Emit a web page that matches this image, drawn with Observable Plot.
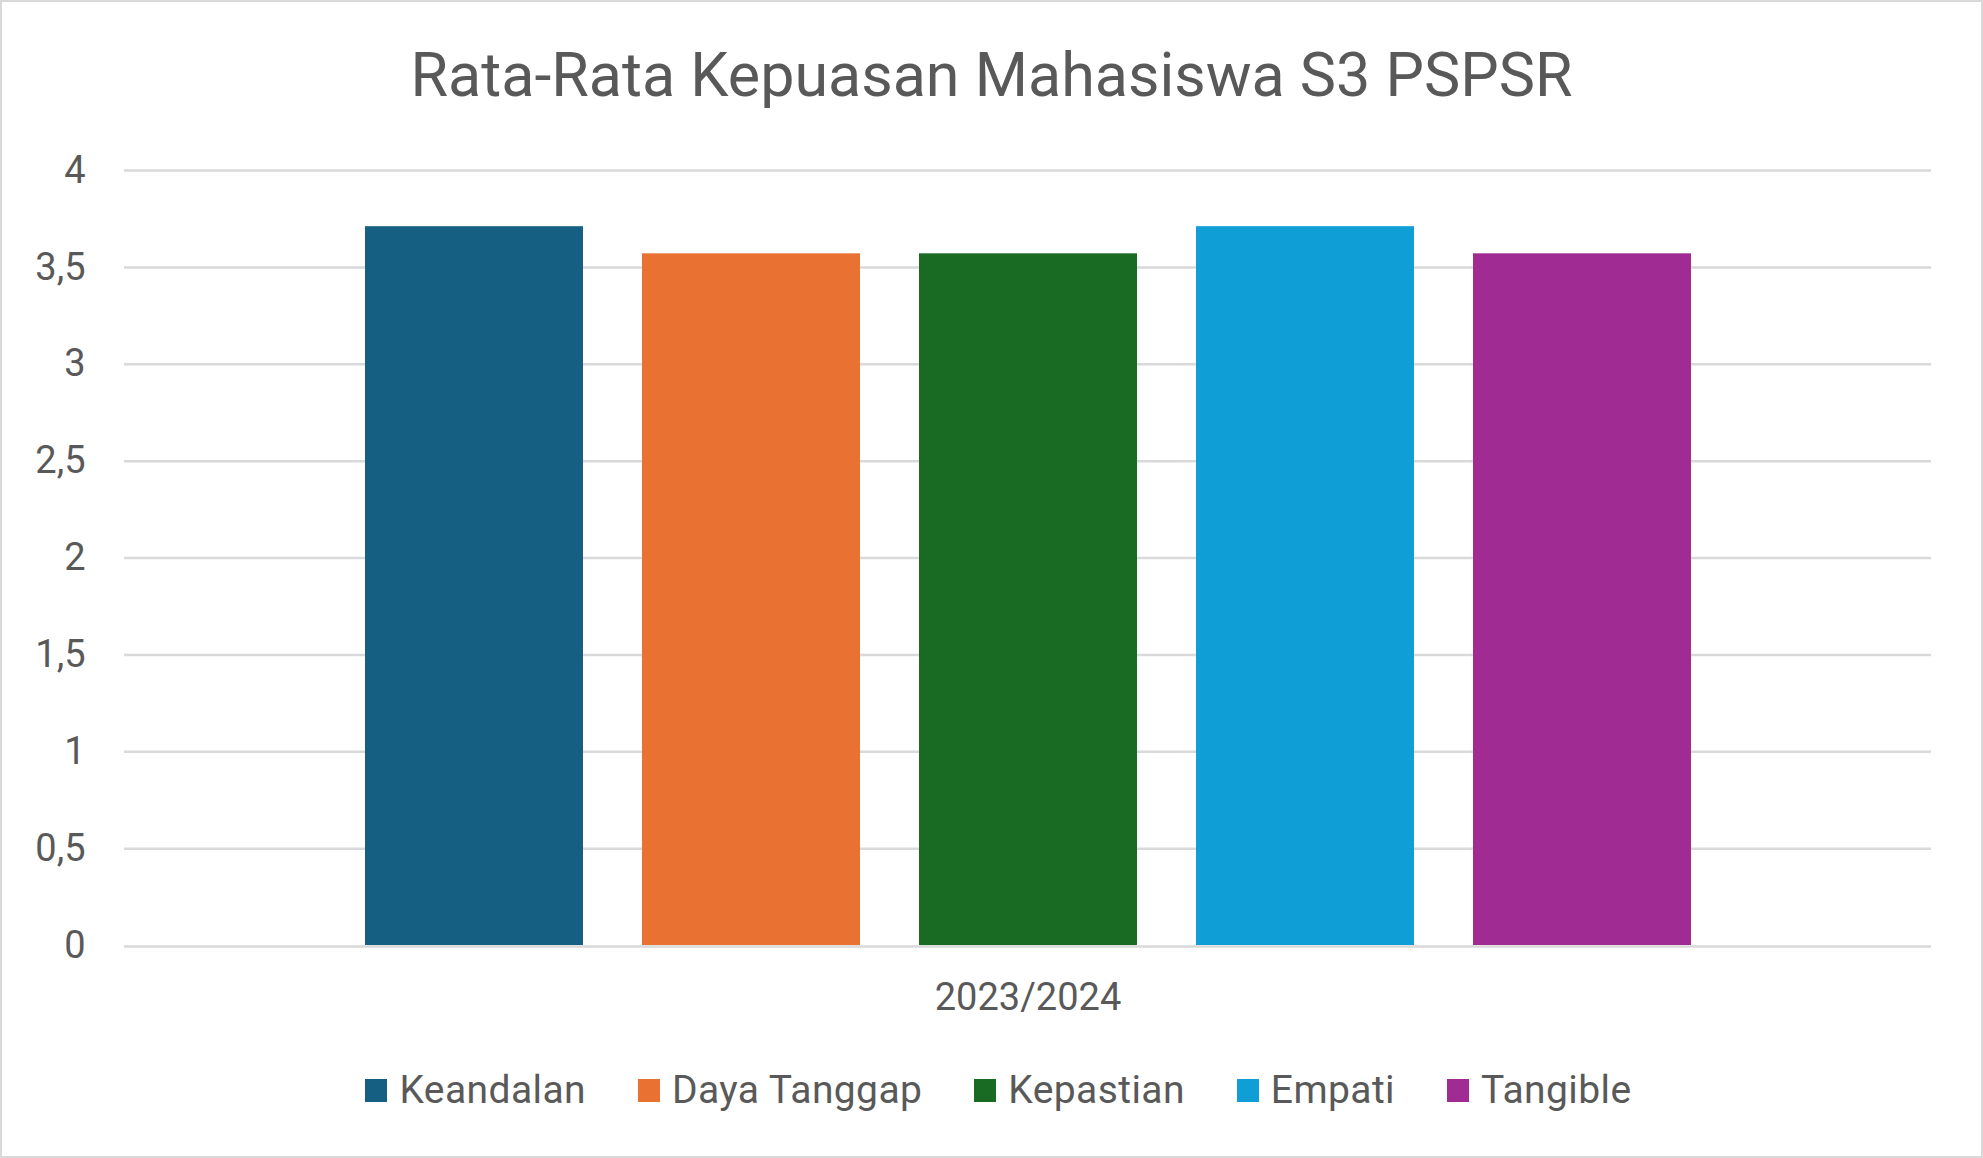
<!DOCTYPE html>
<html>
<head>
<meta charset="utf-8">
<script src="https://cdn.jsdelivr.net/npm/d3@7"></script>
<script src="https://cdn.jsdelivr.net/npm/@observablehq/plot@0.6"></script>
<style>
  html, body { margin: 0; padding: 0; background: #fff; }
  #chart { position: relative; width: 1983px; height: 1158px; overflow: hidden; background: #fff;
           font-family: Roboto, "Liberation Sans", sans-serif; color: #595959; }
  #title { position: absolute; left: 0; right: 0; top: 45px; text-align: center;
           font-size: 61px; line-height: 1; white-space: nowrap; }
  #plot { position: absolute; left: 0; top: 110px; }
  #legend { position: absolute; left: 14px; right: 0; top: 1070px; height: 40px;
            display: flex; align-items: center; justify-content: center; font-size: 39px; letter-spacing: 0.4px; }
  .item { display: flex; align-items: center; margin-right: 52px; white-space: nowrap; }
  .item:last-child { margin-right: 0; }
  .sw { width: 22px; height: 23px; margin-right: 12px; }
  #frame { position: absolute; left: 0; top: 0; width: 1983px; height: 1158px; box-sizing: border-box;
           border: 2px solid #d9d9d9; pointer-events: none; }
</style>
</head>
<body>
<div id="chart">
  <div id="title">Rata-Rata Kepuasan Mahasiswa S3 PSPSR</div>
  <div id="plot"></div>
  <div id="legend"></div>
  <div id="frame"></div>
</div>
<script>
const years = ["2023/2024"];
const categories = ["Keandalan", "Daya Tanggap", "Kepastian", "Empati", "Tangible"];
const values = [3.71, 3.57, 3.57, 3.71, 3.57];
const colors = ["#156082", "#E97132", "#196B24", "#0F9ED5", "#A02B93"];
const yTicks = [0, 0.5, 1, 1.5, 2, 2.5, 3, 3.5, 4];

const data = categories.map((c, i) => ({year: years[0], category: c, value: values[i]}));

const chart = Plot.plot({
  width: 1983,
  height: 920,
  marginTop: 60,
  marginBottom: 85,
  marginLeft: 124,
  marginRight: 52,
  style: {fontFamily: "Roboto, 'Liberation Sans', sans-serif", fontSize: "38px", color: "#595959", background: "transparent", overflow: "visible"},
  fx: {domain: years, padding: 0, label: null},
  x: {domain: categories, paddingInner: 0.213, paddingOuter: 0.866, axis: null},
  y: {domain: [0, 4], label: null},
  color: {domain: categories, range: colors},
  marks: [
    Plot.gridY(yTicks.filter(d => d !== 0), {stroke: "#d9d9d9", strokeOpacity: 1, strokeWidth: 2.5}),
    Plot.axisY(yTicks, {tickSize: 0, tickPadding: 39, tickFormat: d => String(d).replace(".", ","), label: null, fill: "#595959"}),
    Plot.axisFx({anchor: "bottom", tickSize: 0, tickPadding: 38, label: null, fill: "#595959"}),
    Plot.barY(data, {fx: "year", x: "category", y: "value", fill: "category"}),
    Plot.ruleY([0], {stroke: "#d9d9d9", strokeWidth: 2.5, dy: 1})
  ]
});
document.getElementById("plot").appendChild(chart);

const legend = document.getElementById("legend");
categories.forEach((c, i) => {
  const item = document.createElement("div");
  item.className = "item";
  const sw = document.createElement("div");
  sw.className = "sw";
  sw.style.background = colors[i];
  const label = document.createElement("span");
  label.textContent = c;
  item.appendChild(sw);
  item.appendChild(label);
  legend.appendChild(item);
});
</script>
</body>
</html>
